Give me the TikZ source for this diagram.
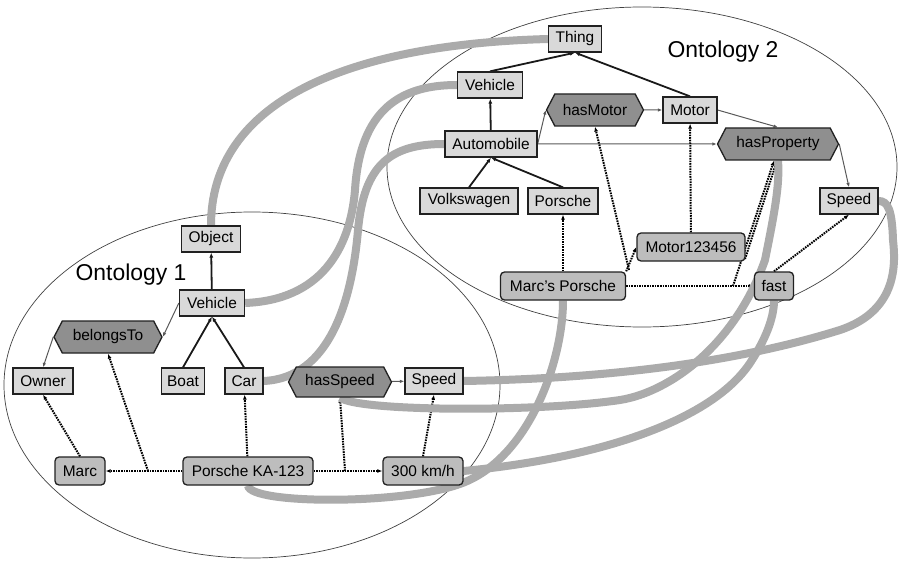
\documentclass[tikz,border=0pt]{standalone}
\usepackage{fontspec}
\setmainfont{Liberation Sans}
\usetikzlibrary{shapes.symbols,arrows.meta}

\definecolor{clsfill}{gray}{0.85}
\definecolor{indfill}{gray}{0.74}
\definecolor{propfill}{gray}{0.56}
\definecolor{mapgray}{gray}{0.67}
\definecolor{boxline}{gray}{0.13}

\newcommand\boxfont{\fontsize{15.5}{18}\selectfont}
\newcommand\ontofont{\fontsize{23}{27}\selectfont}

\pgfdeclarelayer{behind}
\pgfsetlayers{behind,main}

\tikzset{
  cls/.style={draw=boxline, line width=1.3bp, fill=clsfill, minimum height=26bp,
    inner xsep=0pt, inner ysep=0pt, font=\boxfont},
  ind/.style={cls, fill=indfill, rounded corners=4bp, minimum height=28bp},
  prop/.style={cls, fill=propfill, signal, signal to=east and west,
    signal pointer angle=125, minimum height=32bp},
  onto/.style={draw=black!75, line width=0.7bp},
  sublink/.style={line width=1.8bp, black!90, -{Latex[length=5bp,width=4bp]}},
  proplink/.style={line width=1bp, black!65, -{Latex[length=4.5bp,width=3.5bp]}},
  instlink/.style={line width=2bp, black, dash pattern=on 1.6bp off 1bp,
    -{Latex[length=5bp,width=4bp]}},
  maplink/.style={line width=8bp, mapgray},
}

\begin{document}
\begin{tikzpicture}[x=1bp, y=-1bp]
  \useasboundingbox (0,0) rectangle (901,563);

  \node (onto1) [font=\ontofont] at (131,275) {Ontology 1};
  \node (onto2) [font=\ontofont] at (723,52) {Ontology 2};

  % ontology 2
  \node (thing) [cls, minimum width=53bp] at (575,39) {Thing};
  \node (vehicleB) [cls, minimum width=65bp] at (490,85) {Vehicle};
  \node (automobile) [cls, minimum width=92bp] at (491,144) {Automobile};
  \node (motor) [cls, minimum width=54bp] at (690,110) {Motor};
  \node (volkswagen) [cls, minimum width=98bp] at (469,201) {Volkswagen};
  \node (porsche) [cls, minimum width=70bp] at (563,201) {Porsche};
  \node (speedB) [cls, minimum width=58bp] at (849,201) {Speed};
  \node (hasMotor) [prop, minimum width=97bp] at (595,110) {hasMotor};
  \node (hasProperty) [prop, minimum width=121bp] at (778,144) {hasProperty};
  \node (motorInst) [ind, minimum width=108bp] at (691,247) {Motor123456};
  \node (marcsPorsche) [ind, minimum width=125bp] at (563,286) {Marc's Porsche};
  \node (fast) [ind, minimum width=39bp] at (774,286) {fast};

  % ontology 1
  \node (object) [cls, minimum width=59bp] at (211,239) {Object};
  \node (vehicleA) [cls, minimum width=65bp] at (212,303) {Vehicle};
  \node (owner) [cls, minimum width=60bp] at (43,381) {Owner};
  \node (boat) [cls, minimum width=43bp] at (183,381) {Boat};
  \node (car) [cls, minimum width=38bp] at (244,381) {Car};
  \node (speedA) [cls, minimum width=58bp] at (434,381) {Speed};
  \node (belongsTo) [prop, minimum width=108bp] at (108,337) {belongsTo};
  \node (hasSpeed) [prop, minimum width=103bp, minimum height=30bp] at (340,382) {hasSpeed};
  \node (marc) [ind, minimum width=50bp] at (80,471) {Marc};
  \node (porscheKA) [ind, minimum width=130bp] at (248,471) {Porsche KA-123};
  \node (kmh) [ind, minimum width=80bp] at (423,471) {300 km/h};

  \coordinate (bt) at (148,471);
  \coordinate (hs) at (345,471);
  \coordinate (hm) at (629,270);
  \coordinate (hp) at (733,286);
  \coordinate (hq) at (745,259);

  \begin{pgfonlayer}{behind}
    \draw [onto] (252,385) ellipse [x radius=248bp, y radius=173bp];
    \draw [onto] (642,167) ellipse [x radius=255bp, y radius=160bp];

    \draw [sublink] (vehicleB.north) -- (thing.south);
    \draw [sublink] (motor.north) -- (thing.south);
    \draw [sublink] (automobile) -- (vehicleB);
    \draw [sublink] (volkswagen.north) -- (automobile.south);
    \draw [sublink] (porsche.north) -- (automobile.south);
    \draw [sublink] (vehicleA) -- (object);
    \draw [sublink] (boat.north) -- (vehicleA.south);
    \draw [sublink] (car.north) -- (vehicleA.south);

    \draw [proplink] (automobile.east) -- (hasMotor.west);
    \draw [proplink] (hasMotor) -- (motor);
    \draw [proplink] (motor.east) -- (hasProperty.north);
    \draw [proplink] (automobile) -- (hasProperty);
    \draw [proplink] (hasProperty.east) -- (speedB.north);
    \draw [proplink] (vehicleA.west) -- (belongsTo.east);
    \draw [proplink] (belongsTo.west) -- (owner.north);
    \draw [proplink] (hasSpeed) -- (speedA);

    \draw [instlink] (porscheKA) -- (car);
    \draw [instlink] (marc.north) -- (owner.south);
    \draw [instlink] (kmh.north) -- (speedA.south);
    \draw [instlink] (porscheKA) -- (marc);
    \draw [instlink] (bt) -- (belongsTo.south);
    \draw [instlink] (porscheKA) -- (kmh);
    \draw [instlink] (hs) -- (hasSpeed.south);
    \draw [instlink] (marcsPorsche) -- (porsche);
    \draw [instlink] (motorInst) -- (motor);
    \draw [instlink] (marcsPorsche.north east) -- (motorInst.west);
    \draw [instlink] (hm) -- (hasMotor.south);
    \draw [instlink] (marcsPorsche) -- (fast);
    \draw [instlink] (hp) -- ([xshift=-4bp]hasProperty.south);
    \draw [instlink] (hq) -- ([xshift=-1bp]hasProperty.south);
    \draw [instlink] (fast.north) -- (speedB.south);

    % mappings
    \draw [maplink] (object.north) .. controls (211,110) and (330,45) .. (thing.west);
    \draw [maplink] (vehicleA.east) .. controls (320,300) and (350,250) .. (355,190)
      .. controls (360,110) and (400,85) .. (vehicleB.west);
    \draw [maplink] (car.east) .. controls (330,378) and (352,300) .. (358,230)
      .. controls (364,165) and (390,144) .. (automobile.west);
    \draw [maplink] (speedA.east) .. controls (640,378) and (760,355) .. (840,330)
      .. controls (900,310) and (895,260) .. (893,240)
      .. controls (892,210) and (888,201) .. (speedB.east);
    \draw [maplink] (hasSpeed.south) .. controls (360,412) and (540,412) .. (620,400)
      .. controls (670,392) and (735,345) .. (765,260)
      .. controls (774,215) and (780,185) .. (hasProperty.south);
    \draw [maplink] (porscheKA.south) .. controls (250,505) and (410,505) .. (465,482)
      .. controls (530,455) and (563,360) .. (marcsPorsche.south);
    \draw [maplink] (kmh.east) .. controls (600,458) and (715,420) .. (752,360)
      .. controls (768,335) and (774,315) .. (fast.south);
  \end{pgfonlayer}
\end{tikzpicture}
\end{document}
